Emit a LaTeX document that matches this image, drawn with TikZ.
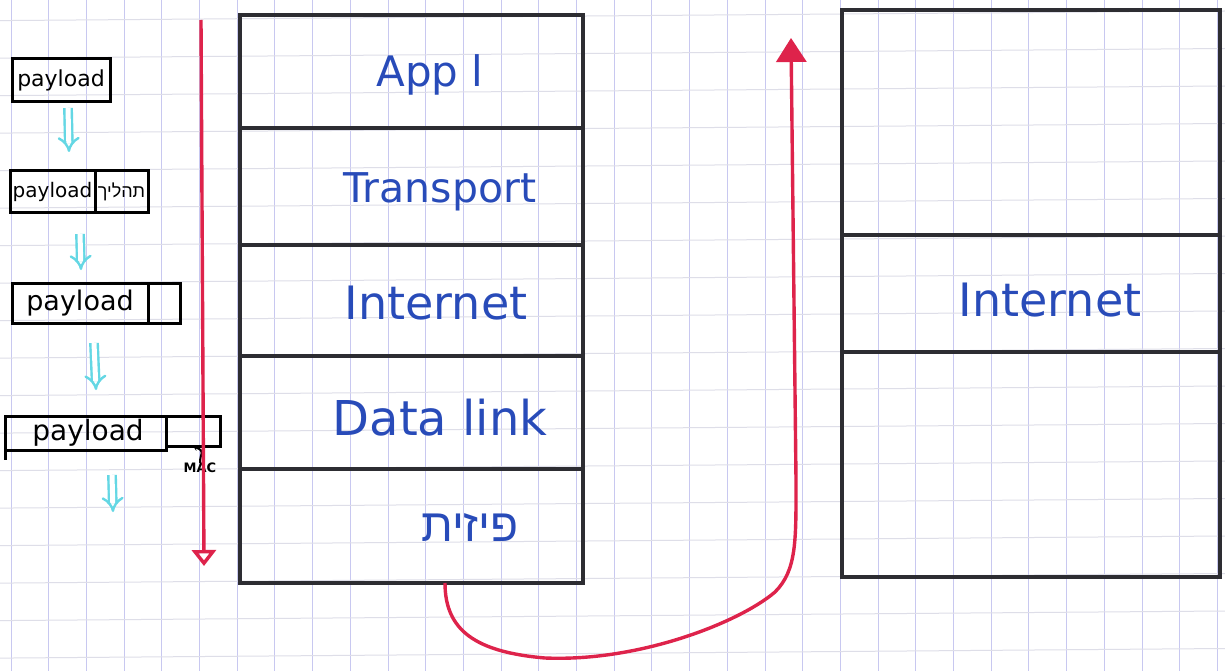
\documentclass[tikz,border=0pt]{standalone}
\usepackage{fontspec}
\setmainfont{DejaVu Sans}
\newfontfamily\hebfont[Script=Hebrew]{Liberation Sans}
\TeXXeTstate=1
\usetikzlibrary{arrows.meta}
\definecolor{ink}{RGB}{45,45,50}
\definecolor{pen}{RGB}{40,75,185}
\definecolor{redpen}{RGB}{222,35,75}
\definecolor{cyanpen}{RGB}{100,215,228}
\definecolor{gridv}{RGB}{200,200,240}
\definecolor{gridh}{RGB}{222,222,232}
\begin{document}
\begin{tikzpicture}[x=1pt,y=-1pt,
  layer/.style={draw=ink,line width=3.4pt,inner sep=0pt,outer sep=0pt},
  lbl/.style={text=pen,inner sep=0pt},
  pkt/.style={draw=black,line width=3pt,inner sep=0pt,outer sep=0pt},
  pktxt/.style={text=black,inner sep=0pt},
  cyanarr/.style={draw=cyanpen,line width=2.4pt,double=white,double distance=5pt,-{Implies[length=8pt]}},
  redline/.style={draw=redpen,line width=3.4pt}]
\fill[white] (0,0) rectangle (1225,671);
\useasboundingbox (0,0) rectangle (1225,671);
% grid paper
\foreach \i in {0,...,32} \draw[gridv,line width=1pt] ({11+37.7*\i},0) -- ({11+37.7*\i},671);
\foreach \j in {0,...,18} \draw[gridh,line width=1pt] (0,{20.6+37.5*\j}) -- (1225,{11+37.5*\j});

% left stack
\node[layer,minimum width=343pt,minimum height=113pt] (L1) at (411.5,71.5) {};
\node[layer,minimum width=343pt,minimum height=117pt] (L2) at (411.5,186.5) {};
\node[layer,minimum width=343pt,minimum height=111pt] (L3) at (411.5,300.5) {};
\node[layer,minimum width=343pt,minimum height=113pt] (L4) at (411.5,412.5) {};
\node[layer,minimum width=343pt,minimum height=114pt] (L5) at (411.5,526) {};
\node[lbl,font=\fontsize{42}{42}\selectfont] (t1) at (430,75) {App l};
\node[lbl,font=\fontsize{41}{41}\selectfont] (t2) at (440,192) {Transport};
\node[lbl,font=\fontsize{46}{46}\selectfont] (t3) at (436,303) {Internet};
\node[lbl,font=\fontsize{48}{48}\selectfont] (t4) at (440,418) {Data link};
\node[lbl,font=\hebfont\fontsize{46}{46}\selectfont] (t5) at (470,528) {\beginR פיזית\endR};

% right stack
\node[layer,minimum width=378pt,minimum height=225pt] (R1) at (1031,122.5) {};
\node[layer,minimum width=378pt,minimum height=117pt] (R2) at (1031,293.5) {};
\node[layer,minimum width=378pt,minimum height=225pt] (R3) at (1031,464.5) {};
\node[lbl,font=\fontsize{46}{46}\selectfont] (t6) at (1050,300) {Internet};

% packets
\node[pkt,minimum width=98pt,minimum height=43pt] (P1) at (61,80) {};
\node[pktxt,font=\fontsize{22}{22}\selectfont] (p1t) at (P1) {payload};

\node[pkt,minimum width=85pt,minimum height=41pt] (P2a) at (52.5,191.5) {};
\node[pkt,minimum width=53pt,minimum height=41pt] (P2b) at (121.5,191.5) {};
\node[pktxt,font=\fontsize{20}{20}\selectfont] (p2t) at (P2a) {payload};
\node[pktxt,font=\hebfont\fontsize{18}{18}\selectfont] (p2h) at (P2b) {\beginR תהליך\endR};

\node[pkt,minimum width=136pt,minimum height=40pt] (P3a) at (80,303) {};
\node[pkt,minimum width=32pt,minimum height=40pt] (P3b) at (164,303) {};
\node[pktxt,font=\fontsize{27}{27}\selectfont] (p3t) at (P3a) {payload};

\node[pkt,minimum width=161pt,minimum height=34pt] (P4a) at (85.5,433) {};
\node[pkt,minimum width=54pt,minimum height=30pt] (P4b) at (193,431) {};
\node[pktxt,font=\fontsize{28}{28}\selectfont] (p4t) at (88,433) {payload};
\coordinate (P4low) at (5,460);
\draw[black,line width=3pt] (P4a.south west) -- (P4low);
\node[pktxt,font=\bfseries\fontsize{13}{13}\selectfont] (mac) at (200,468) {MAC};
\draw[black,line width=2pt,-{Stealth[length=5pt,width=6pt]}] (mac.north) .. controls (200,452) and (206,452) .. (P4b.south);

% cyan arrows between packets
\coordinate (c1a) at (68,108); \coordinate (c1b) at (69,152);
\coordinate (c2a) at (80,234); \coordinate (c2b) at (81,270);
\coordinate (c3a) at (94,343); \coordinate (c3b) at (96,390);
\coordinate (c4a) at (112,475); \coordinate (c4b) at (113,512);
\draw[cyanarr] (c1a) -- (c1b);
\draw[cyanarr] (c2a) -- (c2b);
\draw[cyanarr] (c3a) -- (c3b);
\draw[cyanarr] (c4a) -- (c4b);

% red down arrow
\coordinate (rtop) at (201,20);
\coordinate (rbot) at (204,566);
\draw[redline,-{Triangle[open,length=16pt,width=24pt]}] (rtop) -- (rbot);

% red curve
\coordinate (cs) at (445,583);
\coordinate (ce) at (791,38);
\draw[redline,-{Triangle[length=24pt,width=30pt]}] (cs) .. controls (445,630) and (475,652) .. (545,658)
  .. controls (640,662) and (740,622) .. (775,592)
  .. controls (797,570) and (796,540) .. (796,480) -- (ce);
\end{tikzpicture}
\end{document}
